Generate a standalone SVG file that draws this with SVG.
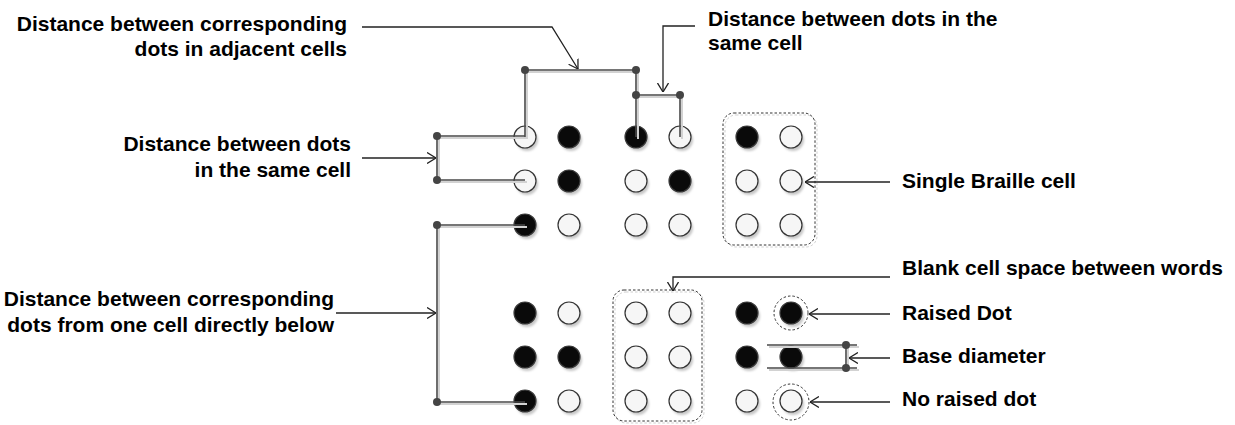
<svg xmlns="http://www.w3.org/2000/svg" xmlns:xlink="http://www.w3.org/1999/xlink" width="1235" height="425" viewBox="0 0 1235 425">
<style>
.t{font-family:"Liberation Sans",Arial,sans-serif;font-weight:bold;font-size:21px;fill:#000}
.ln{fill:none;stroke:#4a4a4a;stroke-width:1.6}
.sh{fill:none;stroke:#d2d2d2;stroke-width:2}
.ar{fill:none;stroke:#222;stroke-width:1.3;marker-end:url(#ah)}
.ep{fill:#444}
.dr{fill:none;stroke:#333;stroke-width:1;stroke-dasharray:2.5,2}
.drs{fill:none;stroke:#cfcfcf;stroke-width:1;stroke-dasharray:2.5,2}
</style>
<defs>
<filter id="bl" x="-50%" y="-50%" width="200%" height="200%"><feGaussianBlur stdDeviation="1"/></filter>
<marker id="ah" viewBox="0 0 9 12" refX="9" refY="6" markerWidth="9" markerHeight="12" markerUnits="userSpaceOnUse" orient="auto">
<path d="M0,0.5 L9,6 L0,11.5" fill="none" stroke="#222" stroke-width="1.3"/>
</marker>
<g id="dw"><circle cx="2" cy="3" r="11" fill="#c8c8c8" filter="url(#bl)"/><circle r="11" fill="#f6f6f6" stroke="#333" stroke-width="1.2"/></g>
<g id="db"><circle cx="2" cy="3" r="11" fill="#c8c8c8" filter="url(#bl)"/><circle r="11" fill="#0a0a0a" stroke="#3a3a3a" stroke-width="1.2"/></g>
</defs>
<rect width="1235" height="425" fill="#fff"/>

<!-- cell boxes -->
<g id="box-single">
<rect class="drs" x="725" y="115" width="92" height="132" rx="11"/>
<rect class="dr" x="723" y="113" width="92" height="132" rx="11"/>
</g>
<g id="box-blank">
<rect class="drs" x="615" y="292" width="89" height="131" rx="11"/>
<rect class="dr" x="613" y="290" width="89" height="131" rx="11"/>
</g>
<g id="ring-raised"><circle class="dr" cx="791" cy="313" r="17"/></g>
<g id="ring-noraised"><circle class="dr" cx="791" cy="402" r="18"/></g>

<!-- dots -->
<g id="cell-top-1">
<use xlink:href="#dw" x="525" y="137"/><use xlink:href="#db" x="569" y="137"/>
<use xlink:href="#dw" x="525" y="181"/><use xlink:href="#db" x="569" y="181"/>
<use xlink:href="#db" x="525" y="225"/><use xlink:href="#dw" x="569" y="225"/>
</g>
<g id="cell-top-2">
<use xlink:href="#db" x="636" y="137"/><use xlink:href="#dw" x="680" y="137"/>
<use xlink:href="#dw" x="636" y="181"/><use xlink:href="#db" x="680" y="181"/>
<use xlink:href="#dw" x="636" y="225"/><use xlink:href="#dw" x="680" y="225"/>
</g>
<g id="cell-top-3">
<use xlink:href="#db" x="747" y="137"/><use xlink:href="#dw" x="791" y="137"/>
<use xlink:href="#dw" x="747" y="181"/><use xlink:href="#dw" x="791" y="181"/>
<use xlink:href="#dw" x="747" y="225"/><use xlink:href="#dw" x="791" y="225"/>
</g>
<g id="cell-bot-1">
<use xlink:href="#db" x="525" y="313"/><use xlink:href="#dw" x="569" y="313"/>
<use xlink:href="#db" x="525" y="357"/><use xlink:href="#db" x="569" y="357"/>
<use xlink:href="#db" x="525" y="401"/><use xlink:href="#dw" x="569" y="401"/>
</g>
<g id="cell-bot-2">
<use xlink:href="#dw" x="636" y="313"/><use xlink:href="#dw" x="680" y="313"/>
<use xlink:href="#dw" x="636" y="357"/><use xlink:href="#dw" x="680" y="357"/>
<use xlink:href="#dw" x="636" y="401"/><use xlink:href="#dw" x="680" y="401"/>
</g>
<g id="cell-bot-3">
<use xlink:href="#db" x="747" y="313"/><use xlink:href="#db" x="791" y="313"/>
<use xlink:href="#db" x="747" y="357"/><use xlink:href="#db" x="791" y="357"/>
<use xlink:href="#dw" x="747" y="401"/><use xlink:href="#dw" x="791" y="401"/>
</g>

<!-- connectors -->
<g id="connectors">
<g transform="translate(2,2)">
<path class="sh" d="M525,137 V70 H636 V137"/>
<path class="sh" d="M636,95 H680 V137"/>
<path class="sh" d="M525,136 H437 V180 H525"/>
<path class="sh" d="M525,225 H437 V402 H525"/>
<path class="sh" d="M767,345 H857 M767,368 H857 M846,345 V368"/>
</g>
<path class="ln" d="M525,137 V70 H636 V137"/>
<path class="ln" d="M636,95 H680 V137"/>
<path class="ln" d="M525,136 H437 V180 H525"/>
<path class="ln" d="M525,225 H437 V402 H525"/>
<path class="ln" d="M767,345 H857 M767,368 H857 M846,345 V368"/>
<circle class="ep" cx="525" cy="70" r="4"/>
<circle class="ep" cx="636" cy="70" r="4"/>
<circle class="ep" cx="636" cy="95" r="4"/>
<circle class="ep" cx="680" cy="95" r="4"/>
<circle class="ep" cx="437" cy="136" r="4"/>
<circle class="ep" cx="437" cy="180" r="4"/>
<circle class="ep" cx="437" cy="225" r="4"/>
<circle class="ep" cx="437" cy="402" r="4"/>
<circle class="ep" cx="846" cy="345" r="4"/>
<circle class="ep" cx="846" cy="368" r="4"/>
<path class="ar" d="M362,27 H552 L578,69"/>
<path class="ar" d="M695,26 H663 V92"/>
<path class="ar" d="M362,158 H436"/>
<path class="ar" d="M336,313 H436"/>
<path class="ar" d="M890,182 H805"/>
<path class="ar" d="M890,277 H673 V291"/>
<path class="ar" d="M890,314 H809"/>
<path class="ar" d="M890,358 H849"/>
<path class="ar" d="M890,402 H810"/>
</g>

<!-- labels -->
<g id="label-adjacent"><text class="t" text-anchor="end" x="347" y="31">Distance between corresponding</text><text class="t" text-anchor="end" x="347" y="56">dots in adjacent cells</text></g>
<g id="label-samecell-top"><text class="t" x="708" y="26">Distance between dots in the</text><text class="t" x="708" y="50">same cell</text></g>
<g id="label-samecell-left"><text class="t" text-anchor="end" x="351" y="151">Distance between dots</text><text class="t" text-anchor="end" x="351" y="177">in the same cell</text></g>
<g id="label-below"><text class="t" text-anchor="end" x="334" y="306">Distance between corresponding</text><text class="t" text-anchor="end" x="334" y="332">dots from one cell directly below</text></g>
<g id="label-single"><text class="t" x="902" y="188">Single Braille cell</text></g>
<g id="label-blank"><text class="t" x="902" y="275">Blank cell space between words</text></g>
<g id="label-raised"><text class="t" x="902" y="320">Raised Dot</text></g>
<g id="label-base"><text class="t" x="902" y="363">Base diameter</text></g>
<g id="label-noraised"><text class="t" x="902" y="406">No raised dot</text></g>
</svg>
